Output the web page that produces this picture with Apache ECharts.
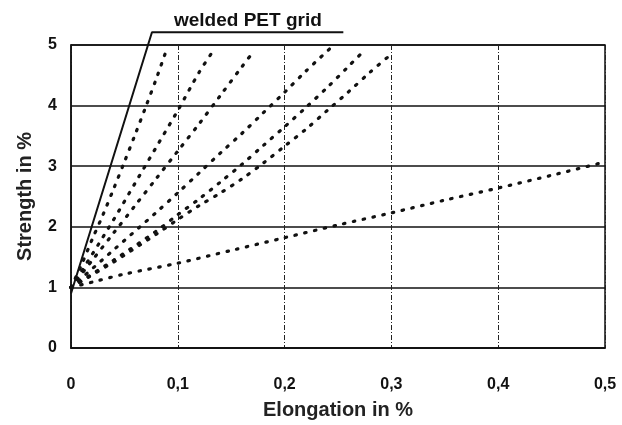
<!DOCTYPE html>
<html>
<head>
<meta charset="utf-8">
<script src="https://cdn.jsdelivr.net/npm/echarts@6/dist/echarts.min.js"></script>
<style>html,body{margin:0;padding:0;background:#fff}#c{width:622px;height:425px}</style>
</head>
<body>
<div id="c"></div>
<script>
// Elongation (%) vs strength (%) curves
const xTicks = [0, 0.1, 0.2, 0.3, 0.4, 0.5];
const yTicks = [0, 1, 2, 3, 4, 5];
const weldedPET = [[0, 0.9], [0.0758, 5.21], [0.255, 5.21]];
const curve1 = [[0,1],[0.01,1.38],[0.02,1.8],[0.03,2.2],[0.04,2.63],[0.05,3.07],[0.06,3.52],[0.07,3.98],[0.08,4.45],[0.089,4.9]];
const curve2 = [[0,1],[0.02,1.55],[0.04,2.12],[0.06,2.72],[0.08,3.32],[0.1,3.92],[0.12,4.55],[0.133,4.9]];
const curve3 = [[0,1],[0.02,1.45],[0.04,1.9],[0.06,2.35],[0.08,2.8],[0.1,3.25],[0.12,3.7],[0.14,4.17],[0.16,4.64],[0.17,4.87]];
const curve4 = [[0,1],[0.04,1.62],[0.08,2.24],[0.1,2.56],[0.12,2.89],[0.14,3.22],[0.16,3.54],[0.18,3.88],[0.2,4.22],[0.22,4.57],[0.243,4.95]];
const curve5 = [[0,1],[0.04,1.45],[0.08,1.93],[0.1,2.2],[0.12,2.46],[0.14,2.74],[0.16,3.03],[0.18,3.34],[0.2,3.65],[0.22,3.97],[0.24,4.3],[0.26,4.65],[0.274,4.9]];
const curve6 = [[0,1],[0.04,1.42],[0.08,1.88],[0.1,2.12],[0.12,2.35],[0.14,2.56],[0.16,2.79],[0.18,3.05],[0.2,3.33],[0.22,3.61],[0.24,3.92],[0.26,4.23],[0.28,4.55],[0.3,4.85]];
const curve7 = [[0,1],[0.025,1.11],[0.05,1.22],[0.1,1.4],[0.15,1.61],[0.2,1.82],[0.25,2.03],[0.3,2.23],[0.35,2.44],[0.4,2.64],[0.45,2.85],[0.5,3.07]];
const dottedCurves = [curve1, curve2, curve3, curve4, curve5, curve6, curve7];
const labelText = 'welded PET grid';

const FONT = 'Liberation Sans';
const chart = echarts.init(document.getElementById('c'), null, {renderer: 'canvas'});

const series = dottedCurves.map(d => ({
  type: 'line', data: d, showSymbol: false, smooth: 0.3, silent: true,
  lineStyle: {color: '#111', width: 3.2, type: [1.5, 8.5], cap: 'round'}
}));
series.push({
  type: 'line', data: weldedPET, showSymbol: false, clip: false, silent: true,
  lineStyle: {color: '#111', width: 2}
});

chart.setOption({
  backgroundColor: '#fff',
  animation: false,
  title: {
    text: labelText, left: 169, top: 6,
    textStyle: {fontFamily: FONT, fontWeight: 'bold', fontSize: 19, color: '#111'}
  },
  grid: {left: 71, right: 17, top: 45, bottom: 69, show: true, borderColor: '#111', borderWidth: 1.5, backgroundColor: 'transparent'},
  xAxis: {
    type: 'value', min: 0, max: 0.5, interval: 0.1,
    name: 'Elongation in %', nameLocation: 'middle', nameGap: 52,
    nameTextStyle: {fontFamily: FONT, fontWeight: 'bold', fontSize: 20, color: '#222'},
    axisLine: {show: true, lineStyle: {color: '#111', width: 1.5}},
    axisTick: {show: false},
    axisLabel: {
      margin: 29, fontFamily: FONT, fontWeight: 'bold', fontSize: 16, color: '#111',
      formatter: v => String(Math.round(v * 10) / 10).replace('.', ',')
    },
    splitLine: {show: true, lineStyle: {color: '#222', width: 1, type: [5, 2, 1, 2]}}
  },
  yAxis: {
    type: 'value', min: 0, max: 5, interval: 1,
    name: 'Strength in %', nameLocation: 'middle', nameGap: 36,
    nameTextStyle: {fontFamily: FONT, fontWeight: 'bold', fontSize: 20, color: '#222'},
    axisLine: {show: true, lineStyle: {color: '#111', width: 1.5}},
    axisTick: {show: false},
    axisLabel: {margin: 14, fontFamily: FONT, fontWeight: 'bold', fontSize: 16, color: '#111'},
    splitLine: {show: true, lineStyle: {color: '#111', width: 1.5}}
  },
  series: series
});
</script>
</body>
</html>
